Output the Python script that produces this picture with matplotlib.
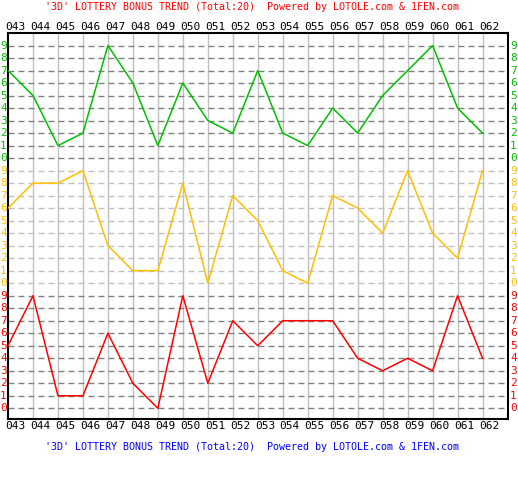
import matplotlib.pyplot as plt
import numpy as np

plt.rcParams['lines.scale_dashes'] = False

issues = ["043", "044", "045", "046", "047", "048", "049", "050", "051", "052",
          "053", "054", "055", "056", "057", "058", "059", "060", "061", "062"]

# three digit positions, top to bottom
digit1 = [7, 5, 1, 2, 9, 6, 1, 6, 3, 2, 7, 2, 1, 4, 2, 5, 7, 9, 4, 2]
digit2 = [6, 8, 8, 9, 3, 1, 1, 8, 0, 7, 5, 1, 0, 7, 6, 4, 9, 4, 2, 9]
digit3 = [5, 9, 1, 1, 6, 2, 0, 9, 2, 7, 5, 7, 7, 7, 4, 3, 4, 3, 9, 4]

title = "'3D' LOTTERY BONUS TREND (Total:20)  Powered by LOTOLE.com & 1FEN.com"

green = "#00c000"
yellow = "#ffbf00"
red = "#ff0000"

W, H = 518, 500
fig = plt.figure(figsize=(W / 100, H / 100), dpi=100)
fig.patch.set_facecolor("white")

left, right, top, bottom = 8, 507.5, 33, 419.3
ax = fig.add_axes([left / W, 1 - bottom / H, (right - left) / W, (bottom - top) / H])
ax.set_xlim(0, 20)
ax.set_ylim(-0.88, 30)
ax.set_xticks([])
ax.set_yticks([])
for s in ax.spines.values():
    s.set_linewidth(1.5)
    s.set_color("black")

x = np.arange(len(issues))

# vertical grid
for i in range(1, 20):
    ax.axvline(i, color="#c0c0c0", lw=1, zorder=1)

# horizontal dashed rows
bands = [(digit3, 0, red, "#808080"), (digit2, 10, yellow, "#c0c0c0"),
         (digit1, 20, green, "#808080")]
for vals, off, col, gcol in bands:
    for k in range(10):
        ax.axhline(off + k, color=gcol, lw=1, linestyle=(0, (4.3, 2.9)), zorder=1)
        ax.text(-0.05, off + k, str(k), color=col, ha="right", va="center",
                family="DejaVu Sans Mono", fontsize=8, clip_on=False)
        ax.text(20.1, off + k, str(k), color=col, ha="left", va="center",
                family="DejaVu Sans Mono", fontsize=8, clip_on=False)
    ax.plot(x, np.array(vals) + off, color=col, lw=1.1, zorder=3)

# issue labels top and bottom
for i, lab in enumerate(issues):
    ax.text(i - 0.12, 30.5, lab, ha="left", va="center", family="DejaVu Sans Mono",
            fontsize=8, color="black", clip_on=False)
    ax.text(i - 0.12, -1.42, lab, ha="left", va="center", family="DejaVu Sans Mono",
            fontsize=8, color="black", clip_on=False)

fig.text(45 / W, 1 - 7 / H, title, ha="left", va="center", color=red,
         family="DejaVu Sans Mono", fontsize=7.2)
fig.text(45 / W, 1 - 447 / H, title, ha="left", va="center", color="#0000ff",
         family="DejaVu Sans Mono", fontsize=7.2)

fig.savefig("out.png", dpi=100)
